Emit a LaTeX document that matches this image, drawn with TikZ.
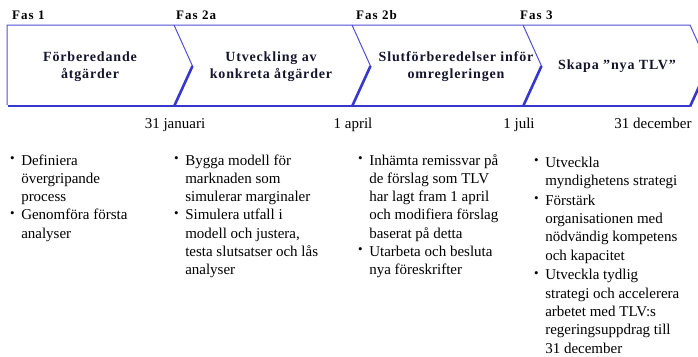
\documentclass[tikz,border=0pt]{standalone}
\usepackage{fontspec}
\setmainfont{Liberation Serif}
\newfontfamily\phasefont[LetterSpace=6]{Liberation Serif}
\newfontfamily\fasfont[LetterSpace=8]{Liberation Serif}
\definecolor{chev}{RGB}{55,55,205}
\definecolor{chevlight}{RGB}{80,80,215}
\definecolor{ptxt}{RGB}{20,20,45}
\newcommand\mybul{\raisebox{2.8pt}{\fontsize{13}{13}\selectfont\textbullet}}
\tikzset{
  thinline/.style={draw=chevlight, line width=1pt, line join=miter},
  shadowline/.style={draw=chev, line width=2.6pt, line cap=butt},
  fas/.style={anchor=base west, inner sep=0pt, font=\fasfont\bfseries\fontsize{13}{15}\selectfont},
  phase/.style={align=center, inner sep=0pt, text=ptxt, font=\phasefont\bfseries\fontsize{14}{17}\selectfont},
  datelabel/.style={anchor=base, inner sep=0pt, font=\fontsize{15}{18}\selectfont},
  bulletcol/.style={anchor=base west, inner sep=0pt, font=\fontsize{15}{18.3}\selectfont}
}
\begin{document}
\begin{tikzpicture}[x=1pt,y=-1pt]
\useasboundingbox (0,0) rectangle (698,356);
\clip (0,0) rectangle (698,356);
% chevron band: shadow (thick) parts
\draw[shadowline] (8,106) -- (690,106);
\draw[shadowline] (708.5,66) -- (690,106.5);
\foreach \x in {174,352,523} \draw[shadowline] (\x+18.5,66) -- (\x,106.5);
% thin outline
\draw[thinline] (7,105) -- (7,25) -- (690,25) -- (708.5,66);
\foreach \x in {174,352,523} \draw[thinline] (\x,25) -- (\x+18.5,66);
% phase headers
\node[fas] (f1) at (12,19.5) {Fas 1};
\node[fas] (f2a) at (176,19.5) {Fas 2a};
\node[fas] (f2b) at (356,19.5) {Fas 2b};
\node[fas] (f3) at (520,19.5) {Fas 3};
% phase texts
\node[phase] (p1) at (90,67) {Förberedande\\åtgärder};
\node[phase] (p2) at (271,67) {Utveckling av\\konkreta åtgärder};
\node[phase] (p3) at (456,67) {Slutförberedelser inför\\omregleringen};
\node[phase] (p4) at (617,66) {Skapa ”nya TLV”};
% dates
\node[datelabel] (d1) at (175,128) {31 januari};
\node[datelabel] (d2) at (353,128) {1 april};
\node[datelabel] (d3) at (519,128) {1 juli};
\node[datelabel] (d4) at (653,128) {31 december};
% bullet columns
\node[bulletcol] (c1) at (10,165) {\begin{tabular}[t]{@{}l@{\hspace{6.5pt}}l@{}}
\mybul & Definiera\\ & övergripande\\ & process\\
\mybul & Genomföra första\\ & analyser
\end{tabular}};
\node[bulletcol] (c2) at (174,165) {\begin{tabular}[t]{@{}l@{\hspace{6.5pt}}l@{}}
\mybul & Bygga modell för\\ & marknaden som\\ & simulerar marginaler\\
\mybul & Simulera utfall i\\ & modell och justera,\\ & testa slutsatser och lås\\ & analyser
\end{tabular}};
\node[bulletcol] (c3) at (358,165) {\begin{tabular}[t]{@{}l@{\hspace{6.5pt}}l@{}}
\mybul & Inhämta remissvar på\\ & de förslag som TLV\\ & har lagt fram 1 april\\ & och modifiera förslag\\ & baserat på detta\\
\mybul & Utarbeta och besluta\\ & nya föreskrifter
\end{tabular}};
\node[bulletcol] (c4) at (534,167) {\begin{tabular}[t]{@{}l@{\hspace{6.5pt}}l@{}}
\mybul & Utveckla\\ & myndighetens strategi\\[1.5pt]
\mybul & Förstärk\\ & organisationen med\\ & nödvändig kompetens\\ & och kapacitet\\[1.5pt]
\mybul & Utveckla tydlig\\ & strategi och accelerera\\ & arbetet med TLV:s\\ & regeringsuppdrag till\\ & 31 december
\end{tabular}};
\end{tikzpicture}
\end{document}
